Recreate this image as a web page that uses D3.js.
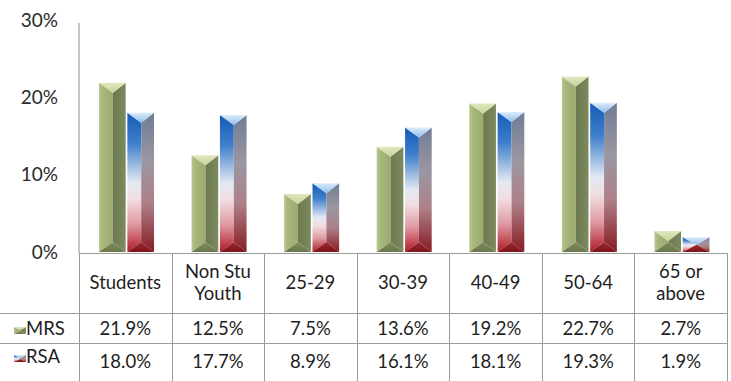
<!DOCTYPE html>
<html>
<head>
<meta charset="utf-8">
<script src="https://cdnjs.cloudflare.com/ajax/libs/d3/7.8.5/d3.min.js"></script>
<style>
  html, body { margin: 0; padding: 0; background: #fff; }
  svg { display: block; }
  text { font-family: Lato, "Open Sans", sans-serif; fill: #1e1e1e; }
</style>
</head>
<body>
<svg id="chart"></svg>
<script>
var categories = [["Students"], ["Non Stu", "Youth"], ["25-29"], ["30-39"], ["40-49"], ["50-64"], ["65 or", "above"]];
var seriesNames = ["MRS", "RSA"];
var mrsValues = [21.9, 12.5, 7.5, 13.6, 19.2, 22.7, 2.7];
var rsaValues = [18.0, 17.7, 8.9, 16.1, 18.1, 19.3, 1.9];
var yTicks = [0, 10, 20, 30];

var width = 731, height = 381;

var svg = d3.select("#chart")
  .attr("width", width)
  .attr("height", height);

var defs = svg.append("defs");

function gradient(id, vertical, stops) {
  var g = defs.append("linearGradient")
    .attr("id", id)
    .attr("x1", 0).attr("y1", 0)
    .attr("x2", vertical ? 0 : 1)
    .attr("y2", vertical ? 1 : 0);
  stops.forEach(function (s) {
    g.append("stop").attr("offset", s[0]).attr("stop-color", s[1]);
  });
}

// green bevel
gradient("mrs-left", false, [[0, "#b9c88f"], [0.25, "#a8b87d"], [1, "#9aab6e"]]);
gradient("mrs-right", false, [[0, "#6c7950"], [1, "#7d8a5e"]]);
gradient("mrs-top", true, [[0, "#e0e8bd"], [1, "#c7d39c"]]);
gradient("mrs-bottom", true, [[0, "#7f8c5c"], [1, "#6a774c"]]);

// blue / white / red bevel
gradient("rsa-left", true, [[0, "#145cb8"], [0.22, "#3f7fcb"], [0.5, "#e3e9f3"], [0.62, "#f1dde0"], [0.8, "#df9aa2"], [1, "#b01a26"]]);
gradient("rsa-right", true, [[0, "#6f7d96"], [0.35, "#9b96a2"], [0.65, "#ad8088"], [1, "#871a22"]]);
gradient("rsa-top", true, [[0, "#dcecfb"], [1, "#8fbde8"]]);
gradient("rsa-bottom", true, [[0, "#9c2a32"], [1, "#7e1219"]]);

var plotLeft = 79, plotRight = 727;
var y0 = 252;

var x = d3.scaleBand()
  .domain(d3.range(categories.length))
  .range([plotLeft, plotRight]);

var xSeries = d3.scaleBand()
  .domain(seriesNames)
  .range([20, 75])
  .paddingInner(0.06);

var y = d3.scaleLinear()
  .domain([0, 30])
  .range([y0, 20]);

var fills = {
  MRS: { left: "url(#mrs-left)", right: "url(#mrs-right)", top: "url(#mrs-top)", bottom: "url(#mrs-bottom)" },
  RSA: { left: "url(#rsa-left)", right: "url(#rsa-right)", top: "url(#rsa-top)", bottom: "url(#rsa-bottom)" }
};

function bevel(g, bx, by, w, h, f, depth) {
  var d = Math.min(depth, h / 2);
  var xm = bx + w * 0.52;
  var pts = function (a) { return a.map(function (p) { return p.join(","); }).join(" "); };
  g.append("polygon")
    .attr("points", pts([[bx, by], [xm, by + d], [xm, by + h - d], [bx, by + h]]))
    .style("fill", f.left);
  g.append("polygon")
    .attr("points", pts([[bx + w, by], [xm, by + d], [xm, by + h - d], [bx + w, by + h]]))
    .style("fill", f.right);
  g.append("polygon")
    .attr("points", pts([[bx, by], [bx + w, by], [xm, by + d]]))
    .style("fill", f.top);
  g.append("polygon")
    .attr("points", pts([[bx, by + h], [bx + w, by + h], [xm, by + h - d]]))
    .style("fill", f.bottom);
}

// y axis
var yAxis = d3.axisLeft(y)
  .tickValues(yTicks)
  .tickSize(0)
  .tickPadding(0)
  .tickFormat(function (d) { return d + "%"; });

var gAxis = svg.append("g")
  .attr("transform", "translate(58,0)")
  .call(yAxis);
gAxis.select(".domain").remove();
gAxis.selectAll("text")
  .attr("dy", "0.32em")
  .style("font-size", "19px")
  .style("font-family", "Lato, sans-serif")
  .style("fill", "#2a2a2a");

svg.append("line")
  .attr("x1", plotLeft).attr("x2", plotLeft)
  .attr("y1", 23).attr("y2", 253)
  .style("stroke", "#8c8c8c")
  .style("stroke-width", 1);

// bars
var groupBars = svg.append("g").attr("id", "group-bars");
categories.forEach(function (c, i) {
  [mrsValues[i], rsaValues[i]].forEach(function (v, s) {
    var name = seriesNames[s];
    var bx = x(i) + xSeries(name);
    var by = y(v);
    bevel(groupBars, bx, by, xSeries.bandwidth(), y0 - by, fills[name], 10);
  });
});

// data table
var rowTop = 253, rowHeader = 313, rowMrs = 343, rowBottom = 381;
var grid = svg.append("g")
  .attr("id", "group-table")
  .style("stroke", "#9a9a9a")
  .style("stroke-width", 1);

grid.append("line")
  .attr("x1", plotLeft).attr("x2", plotRight)
  .attr("y1", rowTop + 0.5).attr("y2", rowTop + 0.5);
[rowHeader, rowMrs].forEach(function (r) {
  grid.append("line")
    .attr("x1", 0).attr("x2", plotRight)
    .attr("y1", r + 0.5).attr("y2", r + 0.5);
});
d3.range(categories.length + 1).forEach(function (i) {
  var xx = Math.round(i < categories.length ? x(i) : plotRight) + 0.5;
  grid.append("line")
    .attr("x1", xx).attr("x2", xx)
    .attr("y1", rowTop).attr("y2", rowBottom);
});

var fontSize = "18.5px";

categories.forEach(function (c, i) {
  var cx = x(i) + x.bandwidth() / 2;
  var t = svg.append("text")
    .attr("x", cx)
    .attr("text-anchor", "middle")
    .style("font-size", fontSize);
  if (c.length === 1) {
    t.append("tspan").attr("x", cx).attr("y", 289).text(c[0]);
  } else {
    t.append("tspan").attr("x", cx).attr("y", 278).text(c[0]);
    t.append("tspan").attr("x", cx).attr("y", 300).text(c[1]);
  }
  svg.append("text")
    .attr("x", cx).attr("y", 335)
    .attr("text-anchor", "middle")
    .style("font-size", fontSize)
    .text(mrsValues[i].toFixed(1) + "%");
  svg.append("text")
    .attr("x", cx).attr("y", 368)
    .attr("text-anchor", "middle")
    .style("font-size", fontSize)
    .text(rsaValues[i].toFixed(1) + "%");
});

// legend keys
var legendY = [327, 355];
seriesNames.forEach(function (name, s) {
  var gKey = svg.append("g");
  bevel(gKey, 14, legendY[s], 12, 7, fills[name], 3);
  svg.append("text")
    .attr("x", 26).attr("y", legendY[s] + 8)
    .style("font-size", fontSize)
    .text(name);
});
</script>
</body>
</html>
